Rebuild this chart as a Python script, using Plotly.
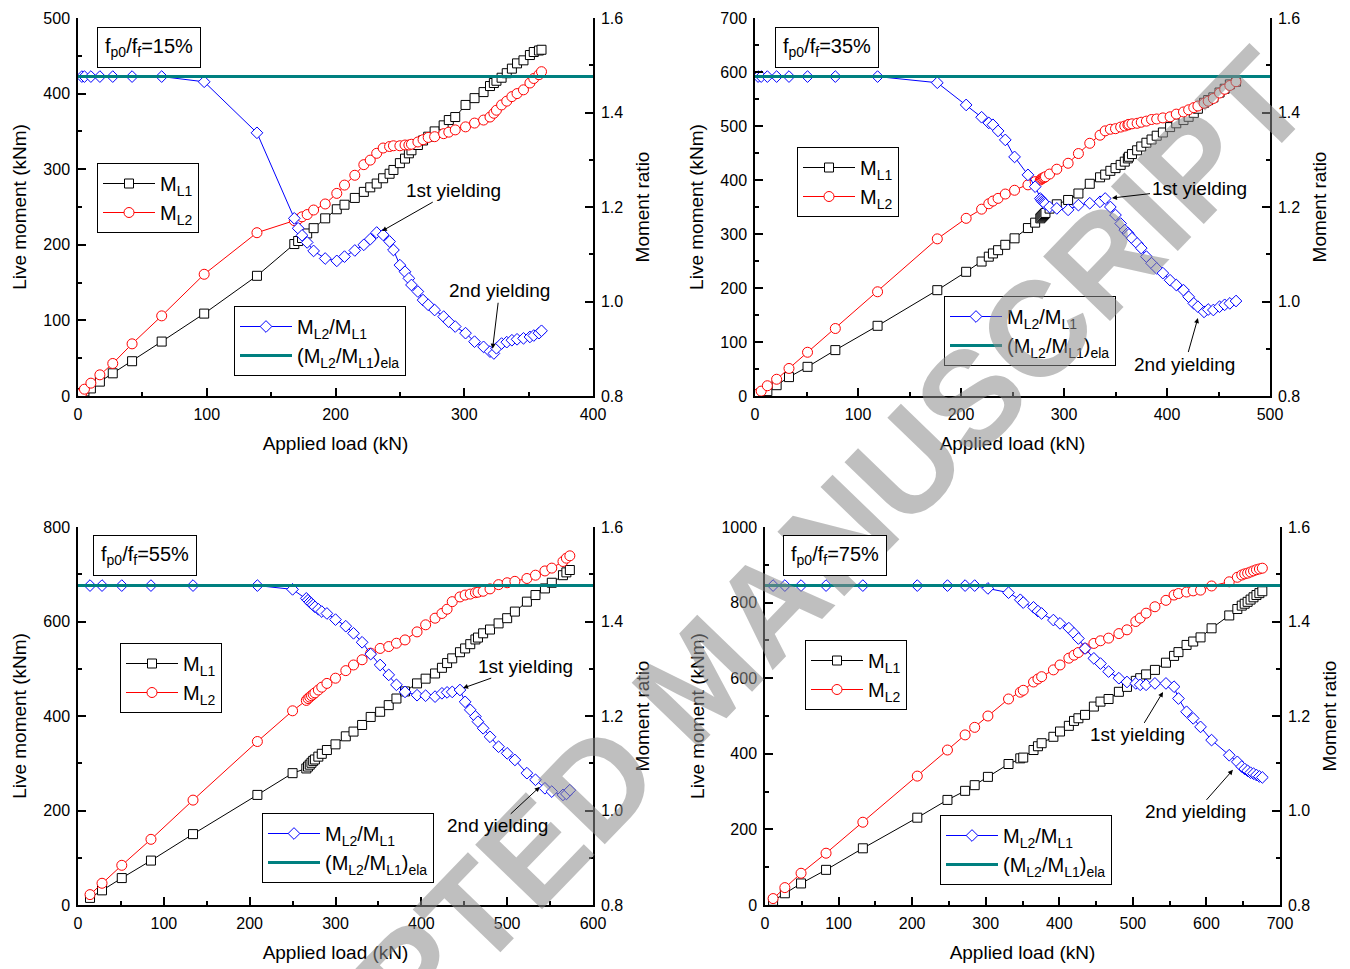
import plotly.graph_objects as go

W, H = 1350, 969
FONT = "Liberation Sans, Arial, Helvetica, sans-serif"

# ---------------- data ----------------
LOAD_15 = [3, 5, 10, 17, 27, 42, 65, 98, 139, 168, 171, 174, 178, 183, 192, 201, 207, 215, 222, 227,
           232, 237, 242, 245, 250, 254, 257, 259, 264, 268, 272, 277, 284, 288, 293, 301, 308, 315, 320, 323,
           325, 329, 333, 337, 341, 346, 351, 354, 358, 360]
ML1_15 = [4, 6, 10, 19, 30, 46, 72, 109, 159, 201, 205, 209, 215, 222, 235, 247, 253, 262, 270, 276,
          281, 288, 294, 299, 308, 314, 321, 325, 332, 338, 343, 350, 358, 365, 369, 385, 394, 402, 410, 414,
          417, 421, 427, 433, 440, 444, 451, 455, 457, 458]
ML2_15 = [4, 9, 17, 28, 43, 69, 106, 161, 216, 232, 234, 237, 240, 246, 254, 268, 279, 292, 306, 312,
          321, 328, 330, 331, 331, 332, 332, 333, 336, 339, 342, 343, 347, 349, 352, 356, 361, 365, 369, 374,
          378, 385, 390, 396, 400, 405, 414, 420, 425, 429]
RATIO_15 = [1.476, 1.476, 1.476, 1.476, 1.476, 1.476, 1.476, 1.465, 1.357, 1.176, 1.155, 1.140, 1.125, 1.107,
            1.091, 1.086, 1.095, 1.108, 1.120, 1.132, 1.146, 1.141, 1.127, 1.109, 1.077, 1.063, 1.049, 1.035,
            1.021, 1.003, 0.993, 0.982, 0.968, 0.957, 0.947, 0.933, 0.915, 0.904, 0.894, 0.890, 0.901, 0.911,
            0.914, 0.918, 0.920, 0.922, 0.925, 0.928, 0.933, 0.938]

LOAD_35 = [3, 6, 12, 21, 33, 51, 78, 119, 177, 205, 220, 227, 231, 236, 243, 252, 265, 272, 277, 278,
           279, 280, 281, 282, 286, 293, 304, 314, 325, 335, 340, 345, 350, 355, 359, 362, 363, 366, 371, 375,
           380, 385, 390, 396, 403, 409, 416, 421, 426, 430, 436, 440, 445, 451, 456, 461, 467]
ML1_35 = [3, 5, 9, 20, 35, 54, 85, 130, 196, 230, 249, 258, 264, 270, 280, 292, 311, 321, 329, 331,
          333, 335, 337, 339, 347, 355, 363, 375, 393, 405, 410, 417, 422, 428, 434, 440, 443, 448, 455, 462,
          469, 475, 482, 488, 498, 505, 511, 517, 524, 532, 543, 548, 553, 562, 569, 577, 582]
ML2_35 = [4, 9, 19, 31, 51, 81, 125, 193, 291, 329, 346, 356, 361, 366, 374, 381, 391, 397, 400, 402,
          403, 404, 405, 406, 411, 420, 431, 449, 468, 483, 491, 494, 495, 498, 500, 502, 503, 504, 505, 507,
          509, 512, 513, 515, 517, 522, 526, 530, 534, 537, 542, 546, 551, 561, 568, 575, 582]
RATIO_35 = [1.476, 1.476, 1.476, 1.476, 1.476, 1.476, 1.476, 1.476, 1.463, 1.416, 1.390, 1.378, 1.374,
            1.361, 1.342, 1.306, 1.268, 1.243, 1.218, 1.215, 1.212, 1.210, 1.208, 1.206, 1.200, 1.197,
            1.194, 1.204, 1.208, 1.211, 1.218, 1.200, 1.183, 1.165, 1.151, 1.145, 1.142, 1.134, 1.123,
            1.113, 1.095, 1.081, 1.070, 1.060, 1.045, 1.035, 1.024, 1.010, 0.996, 0.989, 0.978, 0.983,
            0.982, 0.989, 0.993, 0.996, 1.001]

LOAD_55 = [14, 28, 51, 85, 134, 209, 250, 266, 268, 270, 272, 274, 276, 280, 284, 290, 300, 312, 321, 331,
           341, 352, 362, 371, 381, 395, 405, 416, 424, 430, 436, 445, 451, 457, 463, 466, 472, 480, 490, 500,
           509, 523, 533, 544, 552, 565, 569, 573]
ML1_55 = [15, 31, 57, 94, 150, 233, 279, 289, 293, 297, 301, 305, 308, 314, 320, 328, 340, 357, 367, 381,
          398, 409, 423, 437, 452, 469, 479, 490, 502, 512, 522, 535, 543, 552, 562, 566, 575, 583, 596, 607,
          621, 642, 656, 670, 682, 698, 704, 709]
ML2_55 = [22, 46, 84, 139, 222, 346, 411, 433, 437, 440, 443, 446, 449, 455, 461, 469, 480, 496, 508, 519,
          533, 543, 547, 554, 561, 578, 593, 607, 617, 626, 642, 652, 656, 658, 661, 662, 664, 669, 678, 682,
          685, 691, 698, 707, 713, 727, 734, 739]
RATIO_55 = [1.476, 1.476, 1.476, 1.476, 1.476, 1.476, 1.468, 1.449, 1.445, 1.441, 1.438, 1.435, 1.431,
            1.426, 1.421, 1.417, 1.404, 1.390, 1.375, 1.356, 1.331, 1.308, 1.287, 1.266, 1.251, 1.244,
            1.243, 1.241, 1.248, 1.250, 1.251, 1.255, 1.230, 1.213, 1.199, 1.188, 1.174, 1.156, 1.135,
            1.121, 1.107, 1.079, 1.065, 1.047, 1.040, 1.033, 1.035, 1.043]

LOAD_75 = [11, 27, 49, 83, 133, 207, 248, 272, 285, 303, 331, 347, 351, 365, 371, 376, 392, 401, 413, 420,
           426, 435, 447, 456, 467, 481, 492, 504, 510, 518, 530, 545, 556, 562, 573, 582, 592, 607, 631, 642,
           648, 652, 656, 660, 664, 668, 672, 676]
ML1_75 = [11, 31, 57, 93, 150, 231, 278, 302, 317, 339, 373, 388, 390, 410, 420, 428, 445, 459, 474, 487,
          494, 503, 525, 538, 545, 564, 577, 593, 600, 610, 622, 641, 659, 669, 688, 697, 708, 732, 766, 783,
          792, 797, 802, 808, 814, 820, 825, 830]
ML2_75 = [17, 46, 84, 137, 219, 341, 410, 450, 470, 500, 545, 563, 568, 590, 598, 604, 622, 635, 653, 661,
          668, 679, 692, 699, 706, 718, 728, 750, 759, 772, 789, 806, 820, 824, 828, 831, 833, 844, 855, 867,
          873, 876, 878, 881, 884, 887, 889, 891]
RATIO_75 = [1.476, 1.476, 1.476, 1.476, 1.476, 1.476, 1.476, 1.476, 1.476, 1.470, 1.461, 1.446, 1.440,
            1.430, 1.422, 1.417, 1.403, 1.396, 1.386, 1.375, 1.364, 1.343, 1.322, 1.311, 1.294, 1.280,
            1.272, 1.269, 1.266, 1.266, 1.269, 1.269, 1.262, 1.237, 1.209, 1.195, 1.177, 1.149, 1.117,
            1.103, 1.093, 1.088, 1.084, 1.080, 1.078, 1.075, 1.072, 1.070]

ELA_RATIO = [1.476, 1.476, 1.476, 1.476]
PANEL_LABELS = ["15%", "35%", "55%", "75%"]
X_MAX = [400, 500, 600, 700]
Y_MAX = [500, 700, 800, 1000]
Y_DTICK = [100, 100, 200, 200]
LOADS = [LOAD_15, LOAD_35, LOAD_55, LOAD_75]
ML1S = [ML1_15, ML1_35, ML1_55, ML1_75]
ML2S = [ML2_15, ML2_35, ML2_55, ML2_75]
RATIOS = [RATIO_15, RATIO_35, RATIO_55, RATIO_75]

# ---------------- layout geometry (screen pixels) ----------------
PAGE_OFFSET = 8   # default body margin of the html page
PLOT_BOX = [(78, 593, 18, 396), (755, 1270, 18, 396), (78, 593, 527, 905), (765, 1280, 527, 905)]
LEG1_POS = [(97, 163), (797, 147), (120, 643), (805, 640)]
LEG2_POS = [(234, 306), (944, 296), (262, 813), (940, 815)]
LABEL_POS = [(97, 27), (775, 27), (93, 535), (783, 535)]
# (x, ratio, ax, ay) for arrow heads
YIELD1 = [(236, 1.149, 72, -41), (346.6, 1.219, 87, -10), (448.6, 1.259, 62, -22), (541, 1.251, -26, 43)]
YIELD2 = [(322, 0.900, 7, -58), (430, 0.965, -13, 46), (538, 1.050, -42, 39), (636, 1.086, -37, 42)]
WATERMARK_POS = (700, 678)

def px(x):
    return (x - PAGE_OFFSET) / W

def py(y):
    return 1 - (y - PAGE_OFFSET) / H

fig = go.Figure()
layout = dict(width=W, height=H, margin=dict(l=0, r=0, t=0, b=0, autoexpand=False), paper_bgcolor="white",
              plot_bgcolor="white", font=dict(family=FONT, color="black"), annotations=[])

# watermark first so the other texts are drawn over it
layout["annotations"].append(dict(
    text="<b>ACCEPTED MANUSCRIPT</b>", xref="paper", yref="paper",
    x=px(WATERMARK_POS[0]), y=py(WATERMARK_POS[1]),
    xanchor="center", yanchor="middle", showarrow=False, textangle=-46, opacity=0.55,
    font=dict(size=135, family=FONT, color="rgb(140,140,140)")))

axis_common = dict(showgrid=False, zeroline=False, showline=True, linecolor="black", linewidth=1.5,
                   ticks="inside", ticklen=8, tickwidth=1.5, tickcolor="black", automargin=False,
                   ticklabelstandoff=3,
                   tickfont=dict(size=16, family=FONT, color="black"),
                   title_font=dict(size=19, family=FONT, color="black"))
minor_common = dict(ticks="inside", ticklen=4, tickwidth=1.5, tickcolor="black", showgrid=False)

for i in range(4):
    xa = "x" if i == 0 else f"x{i+1}"
    yl = "y" if i == 0 else f"y{2*i+1}"
    yr = f"y{2*i+2}"
    lg1 = "legend" if i == 0 else f"legend{2*i+1}"
    lg2 = f"legend{2*i+2}"

    fig.add_trace(go.Scatter(x=LOADS[i], y=ML1S[i], mode="lines+markers", name="M<sub>L1</sub>",
                             line=dict(color="black", width=1),
                             marker=dict(symbol="square", size=9, color="white",
                                         line=dict(color="black", width=1)),
                             xaxis=xa, yaxis=yl, legend=lg1))
    fig.add_trace(go.Scatter(x=LOADS[i], y=ML2S[i], mode="lines+markers", name="M<sub>L2</sub>",
                             line=dict(color="red", width=1),
                             marker=dict(symbol="circle", size=10, color="white",
                                         line=dict(color="red", width=1)),
                             xaxis=xa, yaxis=yl, legend=lg1))
    fig.add_trace(go.Scatter(x=LOADS[i], y=RATIOS[i], mode="lines+markers", name="M<sub>L2</sub>/M<sub>L1</sub>",
                             line=dict(color="blue", width=1),
                             marker=dict(symbol="diamond", size=9, color="white",
                                         line=dict(color="blue", width=1)),
                             xaxis=xa, yaxis=yr, legend=lg2))
    fig.add_trace(go.Scatter(x=[0, X_MAX[i]], y=[ELA_RATIO[i], ELA_RATIO[i]], mode="lines",
                             name="(M<sub>L2</sub>/M<sub>L1</sub>)<sub>ela</sub>",
                             line=dict(color="#008080", width=3),
                             xaxis=xa, yaxis=yr, legend=lg2))

    x0, x1, y0, y1 = PLOT_BOX[i]
    xkey = "xaxis" if i == 0 else f"xaxis{i+1}"
    ylkey = "yaxis" if i == 0 else f"yaxis{2*i+1}"
    yrkey = f"yaxis{2*i+2}"
    layout[xkey] = dict(axis_common, domain=[px(x0), px(x1)], anchor=yl, range=[0, X_MAX[i]],
                        dtick=100, tick0=0, title_text="Applied load (kN)", title_standoff=15,
                        minor=dict(minor_common, dtick=50))
    layout[ylkey] = dict(axis_common, domain=[py(y1), py(y0)], anchor=xa, range=[0, Y_MAX[i]],
                         dtick=Y_DTICK[i], tick0=0, title_text="Live moment (kNm)", title_standoff=12,
                         minor=dict(minor_common, dtick=Y_DTICK[i] / 2))
    layout[yrkey] = dict(axis_common, overlaying=yl, side="right", anchor=xa, range=[0.8, 1.6],
                         dtick=0.2, tick0=0.8, tickformat=".1f", title_text="Moment ratio", title_standoff=13,
                         minor=dict(minor_common, dtick=0.1))

    leg_common = dict(xanchor="left", yanchor="top", bordercolor="black", borderwidth=1, bgcolor="white",
                      font=dict(size=20, family=FONT, color="black"), itemwidth=52, tracegroupgap=0)
    layout[lg1] = dict(leg_common, x=px(LEG1_POS[i][0]), y=py(LEG1_POS[i][1]))
    layout[lg2] = dict(leg_common, x=px(LEG2_POS[i][0]), y=py(LEG2_POS[i][1]))

    layout["annotations"].append(dict(
        text=f"f<sub>p0</sub>/f<sub>f</sub>={PANEL_LABELS[i]}", xref="paper", yref="paper",
        x=px(LABEL_POS[i][0]), y=py(LABEL_POS[i][1]), xanchor="left", yanchor="top",
        showarrow=False, bordercolor="black", borderwidth=1, borderpad=7, bgcolor="white",
        font=dict(size=20, family=FONT, color="black")))
    for txt, (hx, hr, ax, ay) in (("1st yielding", YIELD1[i]), ("2nd yielding", YIELD2[i])):
        layout["annotations"].append(dict(
            text=txt, xref=xa, yref=yr, x=hx, y=hr, ax=ax, ay=ay, showarrow=True,
            arrowhead=2, arrowsize=1, arrowwidth=1, arrowcolor="black",
            font=dict(size=19, family=FONT, color="black")))

fig.update_layout(**layout)
fig.write_html("out.html")
